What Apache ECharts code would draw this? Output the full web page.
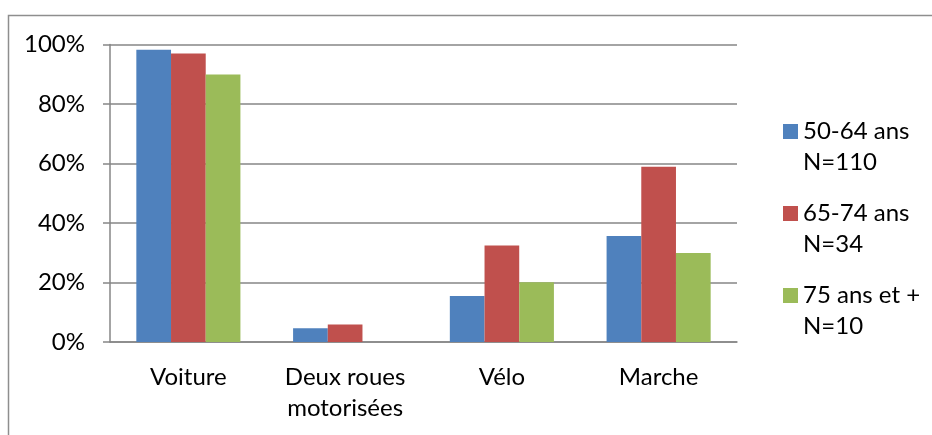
<!DOCTYPE html>
<html>
<head>
<meta charset="utf-8">
<script src="https://cdn.jsdelivr.net/npm/echarts@6/dist/echarts.min.js"></script>
<style>
html,body{margin:0;padding:0;background:#fff;}
#c{width:932px;height:435px;}
</style>
</head>
<body>
<div id="c"></div>
<script>
const categories = ['Voiture', 'Deux roues\nmotorisées', 'Vélo', 'Marche'];
const seriesNames = ['50-64 ans\nN=110', '65-74 ans\nN=34', '75 ans et +\nN=10'];
const s5064 = [0.982, 0.046, 0.155, 0.356];
const s6574 = [0.970, 0.059, 0.324, 0.589];
const s75 = [0.899, 0, 0.201, 0.299];
const yTicks = [0, 0.2, 0.4, 0.6, 0.8, 1.0];
const colors = ['#4F81BD', '#C0504D', '#9BBB59'];

const FONT = 'Lato';
const FS = 24;
const chart = echarts.init(document.getElementById('c'), null, {renderer: 'canvas'});
const values = [s5064, s6574, s75];
chart.setOption({
  animation: false,
  textStyle: {fontFamily: FONT},
  graphic: [{
    type: 'polyline',
    shape: {points: [[8.5, 1000], [8.5, 15.5], [1000, 15.5]]},
    style: {stroke: '#8e8e8e', lineWidth: 1.5, fill: null},
    silent: true
  }],
  grid: {left: 110, top: 44.5, right: 195, bottom: 93},
  legend: {
    orient: 'vertical',
    left: 778,
    top: 80,
    itemWidth: 15,
    itemHeight: 15,
    itemGap: -11,
    textGap: 6,
    icon: 'rect',
    formatter: n => '\n' + n,
    textStyle: {fontFamily: FONT, fontSize: FS, color: '#000', lineHeight: 31},
    data: seriesNames
  },
  xAxis: {
    type: 'category',
    data: categories,
    axisLine: {lineStyle: {color: '#868686', width: 1.5}},
    axisTick: {length: 7, lineStyle: {color: '#868686', width: 1.5}},
    axisLabel: {fontFamily: FONT, fontSize: FS, color: '#000', margin: 20, lineHeight: 31, interval: 0}
  },
  yAxis: {
    type: 'value',
    min: yTicks[0],
    max: yTicks[yTicks.length - 1],
    interval: 0.2,
    axisLine: {show: true, lineStyle: {color: '#868686', width: 1.5}},
    axisTick: {show: true, length: 7, lineStyle: {color: '#868686', width: 1.5}},
    splitLine: {lineStyle: {color: '#868686', width: 1.5}},
    axisLabel: {fontFamily: FONT, fontSize: FS, color: '#000', margin: 25,
      formatter: v => Math.round(v * 100) + '%'}
  },
  series: seriesNames.map((n, i) => ({
    name: n,
    type: 'bar',
    data: values[i],
    barGap: '0%',
    barCategoryGap: '33.6%',
    itemStyle: {color: colors[i]}
  }))
});
</script>
</body>
</html>
